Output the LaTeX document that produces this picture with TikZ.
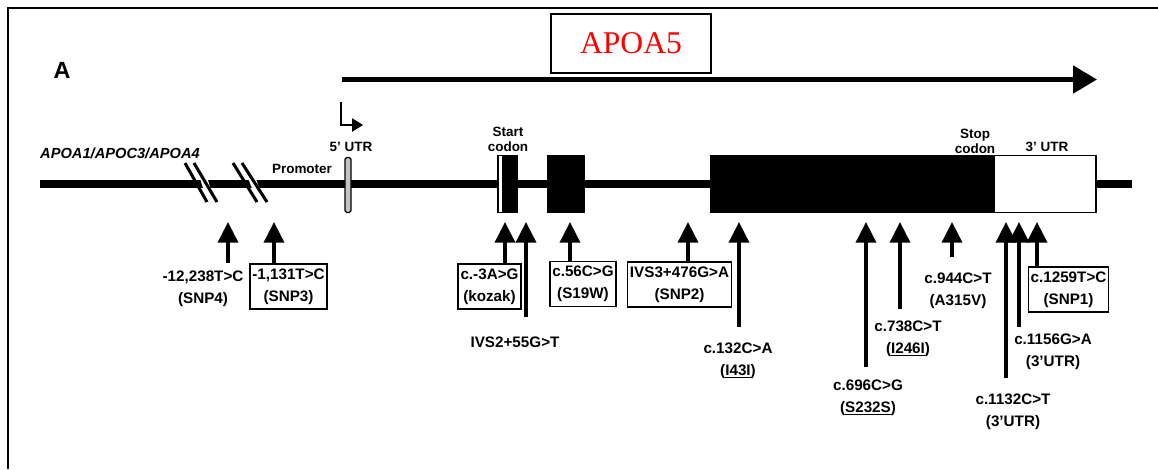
\documentclass[tikz,border=0pt]{standalone}
\usepackage{fontspec}
\setmainfont{Liberation Sans}
\newfontfamily\titlefont{Liberation Serif}
\usepackage{tikz}
\usetikzlibrary{positioning, calc, arrows.meta}
\definecolor{titlered}{RGB}{255, 0, 0}
\definecolor{utrgray}{RGB}{195, 195, 195}

\begin{document}
\begin{tikzpicture}[x=0.03cm, y=-0.03cm, every node/.style={font=\fontsize{13}{18.5}\selectfont\bfseries, align=center, inner sep=1pt}]
    \tikzstyle{mutbox} = [draw, line width=1.2pt, inner xsep=2pt, inner ysep=4pt]
    \tikzstyle{exon} = [draw, line width=1pt, fill=black, minimum height=1.71cm, inner sep=0pt]
    \tikzstyle{small} = [font=\fontsize{11.5}{12.8}\selectfont\bfseries]
    \tikzstyle{mut} = [line width=3.1pt, -{Triangle[length=0.62cm, width=0.6cm]}]
    \tikzstyle{brk} = [line width=2.6pt]

    \useasboundingbox (0,0) rectangle (1158,469);
    \draw[line width=1.7pt] (8,469) -- (8,8) -- (1158,8);

    % Title and transcript
    \node[draw, line width=1.2pt, minimum width=4.8cm, minimum height=1.77cm, text=titlered, font=\titlefont\fontsize{27}{30}\selectfont] (title) at (631,43.5) {APOA5};
    \node[font=\fontsize{20}{22}\selectfont\bfseries] (panel) at (62,70) {A};
    \coordinate (txstart) at (342,79.5);
    \coordinate (txend) at (1097,79.5);
    \draw[line width=4.3pt, -{Triangle[length=0.72cm, width=0.81cm]}] (txstart) -- (txend);

    % Gene line
    \coordinate (gstart) at (40,184);
    \coordinate (gend) at (1132,184);
    \draw[line width=7pt] (gstart) -- (gend);
    \draw[white, line width=6pt] (198,160) -- (212,205);
    \draw[brk] (185,163) -- (207,202);
    \draw[brk] (194,163) -- (217,202);
    \draw[white, line width=6pt] (245,160) -- (262,205);
    \draw[brk] (233,163) -- (257,202);
    \draw[brk] (242,163) -- (267,202);

    % Exons
    \node[draw, line width=1pt, fill=utrgray, minimum width=0.18cm, minimum height=1.65cm, inner sep=0pt, rounded corners=1.5pt] (utr5) at (348,185) {};
    \node[exon, minimum width=0.57cm] (ex1) at (507.5,184) {};
    \node[exon, fill=white, minimum width=0.15cm] (ex1w) at (500.5,184) {};
    \node[exon, minimum width=1.08cm] (ex2) at (566,184) {};
    \node[exon, minimum width=8.49cm] (ex3) at (852.5,184) {};
    \node[exon, fill=white, minimum width=3.06cm] (utr3) at (1045,184) {};

    % Gene labels
    \node[font=\fontsize{12.5}{14}\selectfont\bfseries\itshape] (cluster) at (120,153) {APOA1/APOC3/APOA4};
    \node[small] (prom) at (302,169) {Promoter};
    \node[small] (utr5lab) at (351,147) {5' UTR};
    \node[small] (start) at (508,139) {Start\\codon};
    \node[small] (stop) at (975,141) {Stop\\codon};
    \node[small] (utr3lab) at (1047,147) {3' UTR};
    \coordinate (tss) at (341,102);
    \coordinate (tssend) at (363,125);
    \draw[line width=1.3pt, -{Triangle[length=0.33cm, width=0.4cm]}] (tss) |- (tssend);

    % Variants
    \node (snp4) at (203,289) {-12,238T>C\\(SNP4)};
    \node[mutbox] (snp3) at (288.5,286.5) {-1,131T>C\\(SNP3)};
    \node[mutbox] (kozak) at (489.5,286.5) {c.-3A>G\\(kozak)};
    \node (ivs2) at (515,342) {IVS2+55G>T};
    \node[mutbox] (s19w) at (583,284) {c.56C>G\\(S19W)};
    \node[mutbox] (snp2) at (679.5,284.5) {IVS3+476G>A\\(SNP2)};
    \node (c132) at (738,361) {c.132C>A\\(\underline{I43I})};
    \node (c696) at (868,398) {c.696C>G\\(\underline{S232S})};
    \node (c738) at (908,339) {c.738C>T\\(\underline{I246I})};
    \node (c944) at (958,291) {c.944C>T\\(A315V)};
    \node (c1132) at (1013,412) {c.1132C>T\\(3'UTR)};
    \node (c1156) at (1053,352) {c.1156G>A\\(3'UTR)};
    \node[mutbox] (snp1) at (1068.5,289.5) {c.1259T>C\\(SNP1)};

    % Arrows
    \coordinate (t1) at (228,222);
    \coordinate (t2) at (274,222);
    \coordinate (t3) at (505,222);
    \coordinate (t4) at (526,222);
    \coordinate (t5) at (570,222);
    \coordinate (t6) at (688,222);
    \coordinate (t7) at (739,222);
    \coordinate (t8) at (866,222);
    \coordinate (t9) at (900,222);
    \coordinate (t10) at (952,222);
    \coordinate (t11) at (1006,222);
    \coordinate (t12) at (1019,222);
    \coordinate (t13) at (1037,222);
    \draw[mut] (228,263) -- (t1);
    \draw[mut] (snp3.north -| t2) -- (t2);
    \draw[mut] (kozak.north -| t3) -- (t3);
    \draw[mut] (526,317) -- (t4);
    \draw[mut] (s19w.north -| t5) -- (t5);
    \draw[mut] (snp2.north -| t6) -- (t6);
    \draw[mut] (739,327) -- (t7);
    \draw[mut] (866,367) -- (t8);
    \draw[mut] (900,309) -- (t9);
    \draw[mut] (952,257) -- (t10);
    \draw[mut] (1006,378) -- (t11);
    \draw[mut] (1019,327) -- (t12);
    \draw[mut] (snp1.north -| t13) -- (t13);
\end{tikzpicture}
\end{document}
